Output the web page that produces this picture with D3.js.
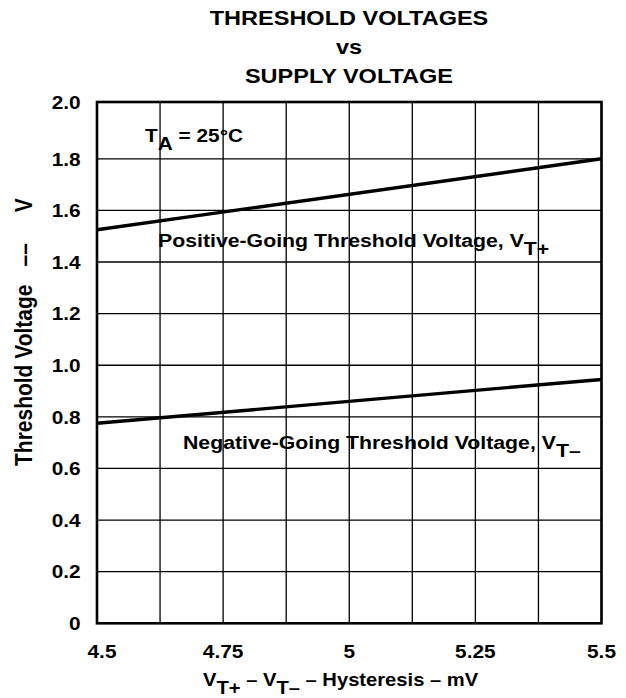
<!DOCTYPE html>
<html>
<head>
<meta charset="utf-8">
<script src="https://cdn.jsdelivr.net/npm/d3@7"></script>
<style>
	body { margin: 0; background: #fff; }
	text { font-family: "Liberation Sans", Arial, Helvetica, sans-serif; font-weight: bold; fill: #000; }
</style>
</head>
<body>
<svg id="chart"></svg>
<script>
	// data
	var supplyVoltage = [4.5, 5.5];
	var positiveThreshold = [1.525, 1.80];
	var negativeThreshold = [0.775, 0.945];

	var xTickValues = [4.5, 4.75, 5, 5.25, 5.5];
	var xTickLabels = ["4.5", "4.75", "5", "5.25", "5.5"];
	var xGridValues = [4.5, 4.625, 4.75, 4.875, 5, 5.125, 5.25, 5.375, 5.5];
	var yTickValues = [0, 0.2, 0.4, 0.6, 0.8, 1.0, 1.2, 1.4, 1.6, 1.8, 2.0];
	var yTickLabels = ["0", "0.2", "0.4", "0.6", "0.8", "1.0", "1.2", "1.4", "1.6", "1.8", "2.0"];

	var titleLines = ["THRESHOLD VOLTAGES", "vs", "SUPPLY VOLTAGE"];

	var width = 626,
		height = 698,
		stretch = 1.12; // reference text is a little wider than Arial

	var x = d3.scaleLinear()
		.domain([4.5, 5.5])
		.range([97, 601.5]);

	// the top row of the original grid is a bit taller than the others
	var y = d3.scaleLinear()
		.domain([0, 1.8, 2.0])
		.range([623.3, 158.8, 102]);

	var svg = d3.select("#chart")
		.attr("width", width)
		.attr("height", height);

	function place(sel, px, py) {
		sel.attr("transform", `translate(${px},${py}) scale(${stretch},1)`);
	}

	// grid
	svg.append("g")
		.selectAll("line")
		.data(xGridValues)
		.enter()
		.append("line")
		.attr("x1", d => x(d))
		.attr("x2", d => x(d))
		.attr("y1", y(0))
		.attr("y2", y(2.0))
		.attr("stroke", "#000")
		.attr("stroke-width", 1.3);

	svg.append("g")
		.selectAll("line")
		.data(yTickValues)
		.enter()
		.append("line")
		.attr("x1", x(4.5))
		.attr("x2", x(5.5))
		.attr("y1", d => y(d))
		.attr("y2", d => y(d))
		.attr("stroke", "#000")
		.attr("stroke-width", 1.3);

	// frame
	svg.append("rect")
		.attr("x", x(4.5))
		.attr("y", y(2.0))
		.attr("width", x(5.5) - x(4.5))
		.attr("height", y(0) - y(2.0))
		.attr("fill", "none")
		.attr("stroke", "#000")
		.attr("stroke-width", 2.6);

	// data lines
	var line = d3.line()
		.x(d => x(d[0]))
		.y(d => y(d[1]));

	[positiveThreshold, negativeThreshold].forEach(series => {
		svg.append("path")
			.datum(d3.zip(supplyVoltage, series))
			.attr("d", line)
			.attr("fill", "none")
			.attr("stroke", "#000")
			.attr("stroke-width", 3.4);
	});

	// tick labels
	svg.append("g")
		.selectAll("text")
		.data(xTickValues)
		.enter()
		.append("text")
		.attr("text-anchor", "middle")
		.style("font-size", "18.6px")
		.text((d, i) => xTickLabels[i])
		.each(function(d, i) { place(d3.select(this), x(d) + (i == 0 ? 5 : 0), 658.3); });

	svg.append("g")
		.selectAll("text")
		.data(yTickValues)
		.enter()
		.append("text")
		.attr("text-anchor", "end")
		.style("font-size", "18.6px")
		.text((d, i) => yTickLabels[i])
		.each(function(d) { place(d3.select(this), 80.7, y(d) + 6.7); });

	// title
	svg.append("g")
		.selectAll("text")
		.data(titleLines)
		.enter()
		.append("text")
		.attr("text-anchor", "middle")
		.style("font-size", "21px")
		.text(d => d)
		.each(function(d, i) { place(d3.select(this), 349, 25.3 + i * 28.8); });

	// text with subscripts
	function subText(parts, px, py, size, anchor) {
		var t = svg.append("text")
			.attr("text-anchor", anchor || "start")
			.style("font-size", size + "px");
		parts.forEach(p => {
			t.append("tspan")
				.attr("dy", p.sub ? 8 : (p.after ? -8 : 0))
				.text(p.text);
		});
		place(t, px, py);
		return t;
	}

	subText([{ text: "T" }, { text: "A", sub: true }, { text: " = 25°C", after: true }], 145, 141.7, 18.6);

	subText([{ text: "Positive-Going Threshold Voltage, V" }, { text: "T+", sub: true }], 158, 247.3, 19);

	subText([{ text: "Negative-Going Threshold Voltage, V" }, { text: "T–", sub: true }], 183, 449, 19);

	subText([
		{ text: "V" }, { text: "T+", sub: true },
		{ text: " – V", after: true }, { text: "T–", sub: true },
		{ text: " – Hysteresis – mV", after: true }
	], 203, 686, 18);

	// y axis title
	var yTitle = svg.append("text")
		.attr("text-anchor", "start")
		.style("font-size", "21px")
		.attr("transform", `translate(32,466) rotate(-90) scale(1,${stretch})`);
	yTitle.append("tspan").text("Threshold Voltage");
	yTitle.append("tspan").attr("dx", 18).text("––");
	yTitle.append("tspan").attr("dx", 31).text("V");
</script>
</body>
</html>
